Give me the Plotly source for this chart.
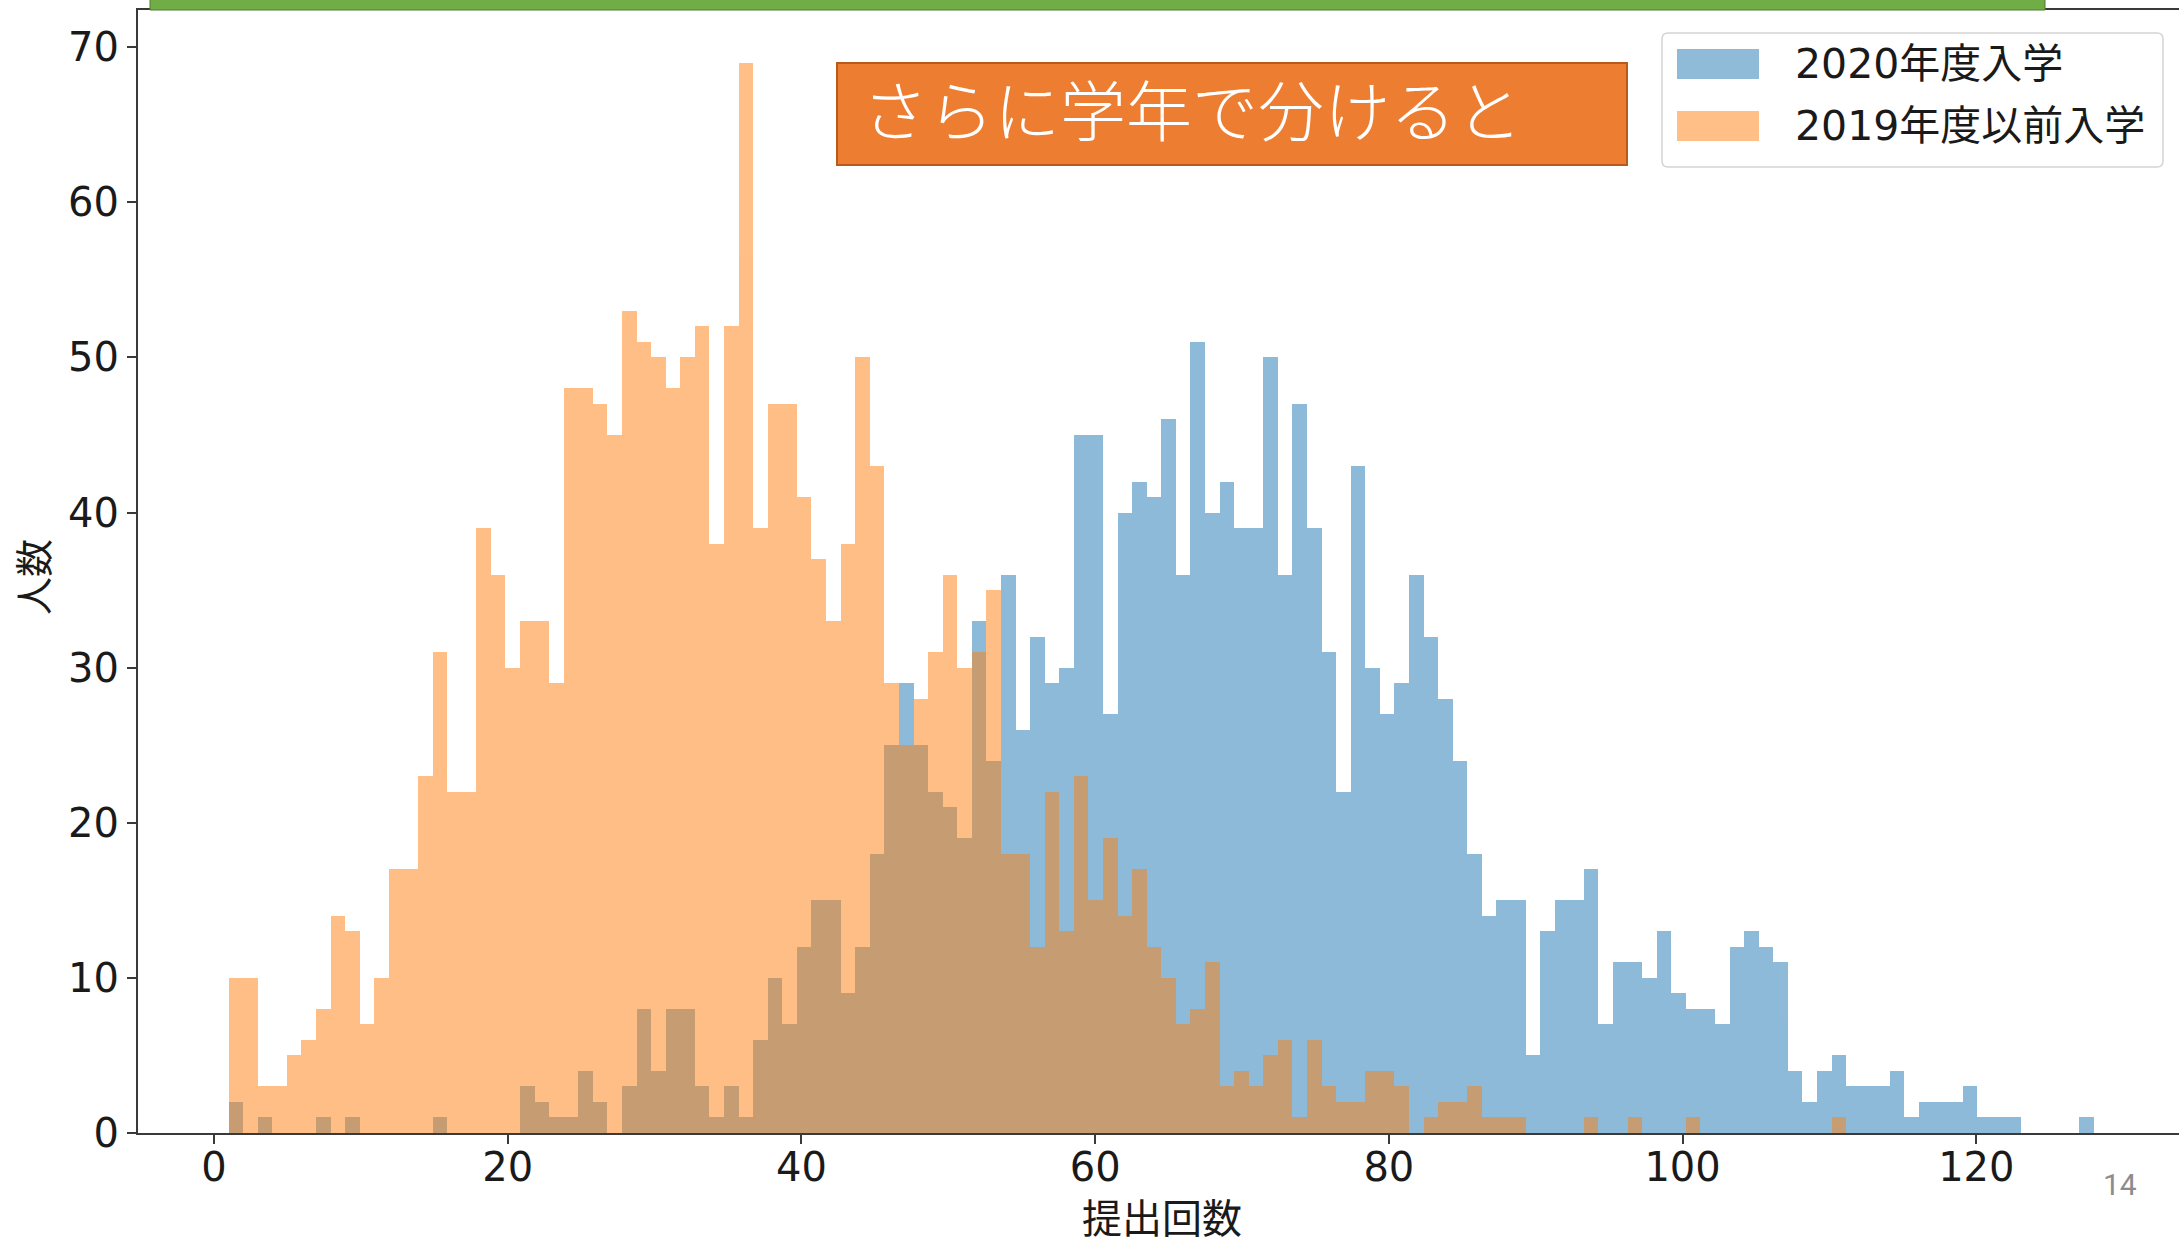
import plotly.graph_objects as go

# ---------------- data ----------------
BIN_START = 1.0
BIN_END = 128.0
N_BINS = 128

series_names = ["2020年度入学", "2019年度以前入学"]

count_2020 = [
    2, 0, 1, 0, 0, 0, 1, 0, 1, 0,
    0, 0, 0, 0, 1, 0, 0, 0, 0, 0,
    3, 2, 1, 1, 4, 2, 0, 3, 8, 4,
    8, 8, 3, 1, 3, 1, 6, 10, 7, 12,
    15, 15, 9, 12, 18, 25, 29, 25, 22, 21,
    19, 33, 24, 36, 26, 32, 29, 30, 45, 45,
    27, 40, 42, 41, 46, 36, 51, 40, 42, 39,
    39, 50, 36, 47, 39, 31, 22, 43, 30, 27,
    29, 36, 32, 28, 24, 18, 14, 15, 15, 5,
    13, 15, 15, 17, 7, 11, 11, 10, 13, 9,
    8, 8, 7, 12, 13, 12, 11, 4, 2, 4,
    5, 3, 3, 3, 4, 1, 2, 2, 2, 3,
    1, 1, 1, 0, 0, 0, 0, 1,
]

count_2019 = [
    10, 10, 3, 3, 5, 6, 8, 14, 13, 7,
    10, 17, 17, 23, 31, 22, 22, 39, 36, 30,
    33, 33, 29, 48, 48, 47, 45, 53, 51, 50,
    48, 50, 52, 38, 52, 69, 39, 47, 47, 41,
    37, 33, 38, 50, 43, 29, 25, 28, 31, 36,
    30, 31, 35, 18, 18, 12, 22, 13, 23, 15,
    19, 14, 17, 12, 10, 7, 8, 11, 3, 4,
    3, 5, 6, 1, 6, 3, 2, 2, 4, 4,
    3, 0, 1, 2, 2, 3, 1, 1, 1, 0,
    0, 0, 0, 1, 0, 0, 1, 0, 0, 0,
    1, 0, 0, 0, 0, 0, 0, 0, 0, 0,
    1, 0, 0, 0, 0, 0, 0, 0, 0, 0,
    0, 0, 0, 0, 0, 0, 0, 0,
]

x_tick_vals = [0, 20, 40, 60, 80, 100, 120]
y_tick_vals = [0, 10, 20, 30, 40, 50, 60, 70]

x_title = "提出回数"
y_title = "人数"
banner_text = "さらに学年で分けると"
page_number = "14"

# ---------------- layout geometry ----------------
W, H = 2179, 1240
L, T, R = 138, 10, 0
B = H - 1133
PW, PH = W - L - R, H - T - B


def px(x):
    """screen x pixel -> paper coordinate"""
    return (x - L) / PW


def py(y):
    """screen y pixel -> paper coordinate"""
    return (H - B - y) / PH


bw = (BIN_END - BIN_START) / N_BINS
centers = [BIN_START + (i + 0.5) * bw for i in range(N_BINS)]

NUM_FONT = "DejaVu Sans, Noto Sans CJK JP, sans-serif"
JP_FONT = "Noto Sans CJK JP, sans-serif"

fig = go.Figure()
fig.add_trace(go.Bar(
    x=centers, y=count_2020, width=bw, name=series_names[0],
    marker=dict(color="#1f77b4", line=dict(width=0)), opacity=0.5,
    showlegend=False,
))
fig.add_trace(go.Bar(
    x=centers, y=count_2019, width=bw, name=series_names[1],
    marker=dict(color="#ff7f0e", line=dict(width=0)), opacity=0.5,
    showlegend=False,
))

axis_common = dict(
    showgrid=False, zeroline=False, showline=True, linecolor="#3a3a3a",
    linewidth=2, ticks="outside", ticklen=9, tickwidth=2, tickcolor="#3a3a3a",
    tickfont=dict(family=NUM_FONT, size=40, color="#1a1a1a"),
    automargin=False,
)

fig.update_layout(
    width=W, height=H,
    margin=dict(l=L, r=R, t=T, b=B, pad=0),
    paper_bgcolor="white", plot_bgcolor="white",
    barmode="overlay", bargap=0,
    xaxis=dict(range=[-5.17, 133.8], tickvals=x_tick_vals, mirror=True,
               ticklabelstandoff=-11, **axis_common),
    yaxis=dict(range=[0, 72.4], tickvals=y_tick_vals, **axis_common),
)

shapes = []
annotations = []

# green header strip
shapes.append(dict(type="rect", xref="paper", yref="paper",
                   x0=px(150), x1=px(2045), y0=py(10), y1=py(-2),
                   fillcolor="#70AD47", line=dict(color="#4f7a33", width=1), layer="above"))

# orange banner
shapes.append(dict(type="rect", xref="paper", yref="paper",
                   x0=px(837), x1=px(1627), y0=py(165), y1=py(63),
                   fillcolor="#ED7D31", line=dict(color="#B85A1C", width=2), layer="above"))
annotations.append(dict(xref="paper", yref="paper", x=px(860), y=py(107),
                        xanchor="left", yanchor="middle", showarrow=False,
                        text=banner_text,
                        font=dict(family=JP_FONT, size=66, color="white", weight=300)))

# legend box (rounded)
lx0, lx1, ly0, ly1, r = 1662, 2163, 33, 167, 6
path = (f"M {px(lx0 + r)},{py(ly0)} L {px(lx1 - r)},{py(ly0)} "
        f"Q {px(lx1)},{py(ly0)} {px(lx1)},{py(ly0 + r)} "
        f"L {px(lx1)},{py(ly1 - r)} Q {px(lx1)},{py(ly1)} {px(lx1 - r)},{py(ly1)} "
        f"L {px(lx0 + r)},{py(ly1)} Q {px(lx0)},{py(ly1)} {px(lx0)},{py(ly1 - r)} "
        f"L {px(lx0)},{py(ly0 + r)} Q {px(lx0)},{py(ly0)} {px(lx0 + r)},{py(ly0)} Z")
shapes.append(dict(type="path", xref="paper", yref="paper", path=path,
                   fillcolor="rgba(255,255,255,0.85)", line=dict(color="#d4d4d4", width=1.5),
                   layer="above"))
legend_colors = ["rgba(31,119,180,0.5)", "rgba(255,127,14,0.5)"]
legend_rows = [(49, 79), (111, 141)]
for name, col, (y0, y1) in zip(series_names, legend_colors, legend_rows):
    shapes.append(dict(type="rect", xref="paper", yref="paper",
                       x0=px(1677), x1=px(1759), y0=py(y1), y1=py(y0),
                       fillcolor=col, line=dict(width=0), layer="above"))
    annotations.append(dict(xref="paper", yref="paper", x=px(1793), y=py((y0 + y1) / 2),
                            xanchor="left", yanchor="middle", showarrow=False, text=name,
                            font=dict(family=NUM_FONT, size=41, color="#1a1a1a")))

# axis titles
annotations.append(dict(xref="paper", yref="paper", x=px(1162), y=py(1216),
                        xanchor="center", yanchor="middle", showarrow=False, text=x_title,
                        font=dict(family=JP_FONT, size=40, color="#1a1a1a")))
annotations.append(dict(xref="paper", yref="paper", x=px(31), y=py(577),
                        xanchor="center", yanchor="middle", showarrow=False, text=y_title,
                        textangle=-90,
                        font=dict(family=JP_FONT, size=38, color="#1a1a1a")))

# page number
annotations.append(dict(xref="paper", yref="paper", x=px(2120), y=py(1184),
                        xanchor="center", yanchor="middle", showarrow=False, text=page_number,
                        font=dict(family="Liberation Sans Narrow, Roboto, sans-serif",
                                  size=30, color="#8c8c8c")))

fig.update_layout(shapes=shapes, annotations=annotations)
fig.write_html(
    "out.html",
    config={"displayModeBar": False},
    post_script="document.body.style.margin='0';document.body.style.overflow='hidden';",
)
